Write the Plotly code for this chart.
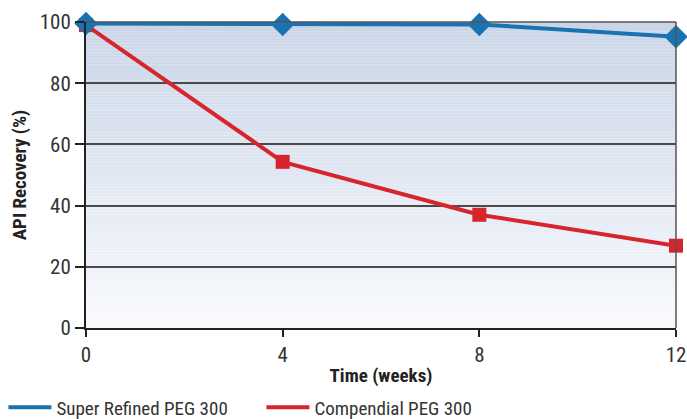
import plotly.graph_objects as go

weeks = [0, 4, 8, 12]
super_refined = [99.5, 99.2, 99.2, 95.2]
compendial = [99.0, 54.3, 37.0, 26.9]
series_names = ["Super Refined PEG 300", "Compendial PEG 300"]
x_ticks = [0, 4, 8, 12]
y_ticks = [0, 20, 40, 60, 80, 100]

BLUE = "#1a72b0"
RED = "#d7252e"
FONT = "Liberation Sans Narrow, Arial Narrow, Roboto Condensed, Liberation Sans, Arial, sans-serif"

fig = go.Figure()

# gradient background bands (below gridlines)
n = 100
top = (201, 213, 231)
bot = (249, 250, 253)
shapes = []
for i in range(n):
    t = (i + 0.5) / n
    c = tuple(round(bot[k] + (top[k] - bot[k]) * t) for k in range(3))
    shapes.append(dict(type="rect", xref="x domain", yref="y domain",
                       x0=0, x1=1, y0=i / n, y1=(i + 1) / n,
                       fillcolor="rgb(%d,%d,%d)" % c, line=dict(width=0),
                       layer="below"))
# top and right frame
shapes.append(dict(type="line", xref="x domain", yref="y domain", x0=0, x1=1, y0=1, y1=1,
                   line=dict(color="#555555", width=1.5), layer="above"))
shapes.append(dict(type="line", xref="x domain", yref="y domain", x0=1, x1=1, y0=0, y1=1,
                   line=dict(color="#555555", width=1.5), layer="above"))

fig.add_trace(go.Scatter(x=weeks, y=compendial, mode="lines", name=series_names[1],
                         line=dict(color=RED, width=4), legendrank=2, hoverinfo="skip",
                         cliponaxis=False))
fig.add_trace(go.Scatter(x=weeks, y=compendial, mode="markers", showlegend=False,
                         marker=dict(symbol="square", size=14, color=RED), cliponaxis=False))
fig.add_trace(go.Scatter(x=weeks, y=super_refined, mode="lines", name=series_names[0],
                         line=dict(color=BLUE, width=4), legendrank=1, hoverinfo="skip",
                         cliponaxis=False))
fig.add_trace(go.Scatter(x=weeks, y=super_refined, mode="markers", showlegend=False,
                         marker=dict(symbol="diamond", size=18, color=BLUE), cliponaxis=False))

fig.update_layout(
    width=687, height=419,
    margin=dict(l=86, r=11, t=22, b=91, autoexpand=False),
    paper_bgcolor="white",
    plot_bgcolor="rgba(0,0,0,0)",
    font=dict(family=FONT, color="#333333", size=20),
    shapes=shapes,
    showlegend=True,
    legend=dict(orientation="h", x=-0.14, xanchor="left", y=-0.197, yanchor="top",
                entrywidth=200, entrywidthmode="pixels",
                font=dict(size=19, color="#333333", family=FONT),
                bgcolor="rgba(0,0,0,0)", itemwidth=43, tracegroupgap=0),
    xaxis=dict(range=[0, 12], tickvals=x_ticks, ticks="outside", ticklen=7,
               tickcolor="#222222", tickwidth=1.5, showgrid=False, zeroline=False,
               showline=True, linecolor="#222222", linewidth=2,
               title=dict(text="<b>Time (weeks)</b>", font=dict(size=19, color="#222222"), standoff=2),
               tickfont=dict(size=21)),
    yaxis=dict(range=[0, 100], tickvals=y_ticks, ticks="outside", ticklen=9,
               tickcolor="#222222", tickwidth=1.5, showgrid=True, gridcolor="#4a4a4a",
               gridwidth=1.5, zeroline=False, showline=True, linecolor="#222222", linewidth=2,
               title=dict(text="<b>API Recovery (%)</b>", font=dict(size=19, color="#222222"), standoff=8),
               tickfont=dict(size=21)),
)

fig.write_html("out.html")
